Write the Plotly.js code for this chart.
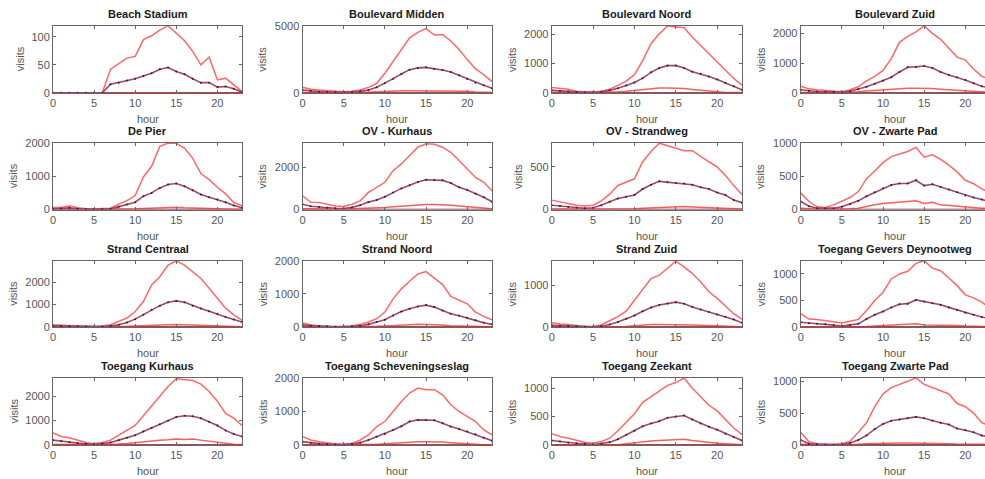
<!DOCTYPE html>
<html>
<head>
<meta charset="utf-8">
<script src="https://cdn.plot.ly/plotly-3.0.1.min.js"></script>
<style>
html,body{margin:0;padding:0;overflow:hidden;background:#fff;}
#chart{width:992px;height:479px;}
</style>
</head>
<body>
<div id="chart"></div>
<script>
const hours = [0,1,2,3,4,5,6,7,8,9,10,11,12,13,14,15,16,17,18,19,20,21,22,23];
const stations = ["Beach Stadium","Boulevard Midden","Boulevard Noord","Boulevard Zuid",
  "De Pier","OV - Kurhaus","OV - Strandweg","OV - Zwarte Pad",
  "Strand Centraal","Strand Noord","Strand Zuid","Toegang Gevers Deynootweg",
  "Toegang Kurhaus","Toegang Scheveningseslag","Toegang Zeekant","Toegang Zwarte Pad"];
const xTicks = [0,5,10,15,20];
const minVisits = [0,0,0,0,0,0,0,0,0,0,0,0,0,0,0,0,0,0,0,0,0,0,0,0];

// Beach Stadium
const bsUpper = [0,0,0,0,0,0,0,42,52,62,65,95,102,112,120,106,93,74,50,64,23,26,14,2];
const bsMean  = [0,0,0,0,0,0,0,15,18,22,25,30,35,42,45,38,33,25,18,18,10,11,7,1];
const bsLower = [0,0,0,0,0,0,0,0,0,0,0,0,0,0,0,0,0,0,0,0,0,0,0,0];
// Boulevard Midden
const bmUpper = [400,250,200,150,100,80,100,200,400,700,1450,2350,3230,4100,4500,4780,4300,4340,3860,3230,2470,1770,1340,830];
const bmMean  = [200,120,80,50,40,40,60,100,200,400,700,1050,1400,1720,1850,1890,1780,1700,1550,1300,1030,750,550,330];
const bmLower = [20,20,20,20,20,20,20,20,50,80,120,150,150,150,150,150,150,150,150,120,100,60,30,10];
// Boulevard Noord
const bnUpper = [180,140,120,50,20,10,50,120,250,400,620,1100,1680,2020,2290,2250,2230,1900,1620,1340,1060,770,490,260];
const bnMean  = [80,60,40,20,10,10,30,80,150,250,350,500,700,850,930,930,850,720,650,560,450,330,220,100];
const bnLower = [10,10,10,10,10,10,10,10,30,50,80,110,140,160,160,160,140,110,80,50,30,10,10,10];
// Boulevard Zuid
const bzUpper = [220,130,100,80,60,30,100,200,400,550,750,1150,1700,1900,2050,2250,2000,1800,1500,1200,1100,800,550,450];
const bzMean  = [100,60,40,30,20,20,50,120,200,300,400,520,700,860,870,900,830,700,600,520,430,320,220,150];
const bzLower = [10,10,10,10,10,10,10,30,60,80,100,120,140,150,150,150,140,120,100,80,60,40,20,10];
// De Pier
const dpUpper = [60,60,110,50,20,10,30,40,160,265,420,980,1300,1900,2000,1990,1850,1540,1080,900,670,470,210,110];
const dpMean  = [20,30,50,20,10,5,10,20,80,150,220,400,500,650,750,780,700,580,450,370,300,220,120,50];
const dpLower = [5,5,5,5,5,5,5,5,10,15,20,30,40,50,60,70,50,40,30,20,15,10,5,5];
// OV - Kurhaus
const okUpper = [650,340,330,250,170,140,250,410,810,1050,1290,1840,2160,2560,2950,3110,3090,2950,2710,2320,1920,1520,1290,890];
const okMean  = [250,150,120,80,60,50,100,200,350,450,600,800,1000,1150,1300,1410,1400,1380,1250,1050,920,750,580,370];
const okLower = [30,20,20,20,20,20,30,50,60,80,100,130,160,200,220,240,240,230,200,170,140,80,50,30];
// OV - Strandweg
const osUpper = [110,90,70,50,40,50,100,180,282,320,360,560,680,778,746,718,690,690,620,560,500,400,280,175];
const osMean  = [50,40,30,20,15,20,50,90,130,150,170,240,290,330,320,310,305,290,260,240,200,170,110,80];
const osLower = [5,5,5,5,5,5,5,5,5,5,10,15,20,25,30,35,35,30,25,25,15,10,5,5];
// OV - Zwarte Pad
const ozUpper = [250,120,40,30,70,120,180,270,464,580,704,796,837,872,935,786,821,755,668,566,439,388,311,250];
const ozMean  = [120,50,20,15,20,40,80,130,200,260,320,370,390,390,440,360,380,340,300,260,210,180,150,120];
const ozLower = [20,10,5,5,5,5,10,20,50,70,90,100,110,115,130,90,110,70,60,50,30,25,20,20];
// Strand Centraal
const scUpper = [100,80,60,40,20,10,40,100,250,400,690,1130,1870,2240,2750,2940,2750,2460,2160,1720,1280,840,540,290];
const scMean  = [50,40,30,20,10,5,20,50,100,200,350,550,765,950,1100,1160,1100,950,820,700,590,450,330,220];
const scLower = [10,10,10,10,10,10,10,10,10,30,50,70,80,90,100,110,100,90,70,50,40,30,20,10];
// Strand Noord
const snUpper = [120,60,40,20,10,5,30,80,150,250,450,850,1150,1380,1600,1670,1480,1280,920,820,700,450,320,220];
const snMean  = [60,40,30,15,5,5,20,40,80,150,220,350,470,550,620,660,600,500,400,340,280,200,130,80];
const snLower = [5,5,5,5,5,5,5,5,5,20,30,50,60,70,80,80,70,60,40,30,20,10,5,5];
// Strand Zuid
const szUpper = [100,70,60,30,10,10,50,150,250,380,645,930,1170,1250,1410,1590,1450,1290,1090,850,690,500,320,185];
const szMean  = [40,30,20,10,5,5,20,60,120,200,280,380,470,530,570,600,560,480,420,360,300,250,180,100];
const szLower = [5,5,5,5,5,5,5,5,5,10,30,50,60,60,60,60,60,50,40,30,20,10,5,5];
// Toegang Gevers Deynootweg
const tgUpper = [250,150,140,120,100,75,110,144,312,500,656,906,1000,1050,1200,1250,1110,1060,925,780,606,550,470,350];
const tgMean  = [90,70,60,50,40,20,40,60,150,230,290,370,430,440,510,480,450,420,370,320,270,230,190,150];
const tgLower = [5,5,5,5,5,5,5,5,10,20,30,40,50,50,60,40,40,40,30,30,20,10,10,5];
// Toegang Kurhaus
const tkUpper = [500,350,300,200,100,50,100,200,400,600,800,1200,1600,2000,2400,2720,2700,2650,2500,2200,1800,1300,1100,800];
const tkMean  = [200,150,120,80,50,30,60,100,200,300,400,550,700,850,1000,1150,1200,1180,1100,950,800,600,450,350];
const tkLower = [20,20,20,20,20,20,20,30,40,60,100,150,180,200,220,250,230,250,200,150,100,50,30,20];
// Toegang Scheveningseslag
const tsUpper = [250,150,100,60,30,20,50,150,300,550,700,1000,1300,1550,1700,1650,1650,1500,1200,1000,850,700,450,300];
const tsMean  = [100,60,40,25,15,10,30,70,150,250,330,450,560,700,750,750,740,650,550,480,400,320,220,130];
const tsLower = [10,10,10,10,10,10,10,10,10,20,40,60,80,90,100,100,100,90,70,50,40,20,10,10];
// Toegang Zeekant
const tzUpper = [200,150,120,80,50,30,60,120,250,400,550,750,850,950,1050,1100,1180,1000,850,700,600,450,300,180];
const tzMean  = [80,60,40,30,20,10,25,50,100,180,250,330,380,420,480,500,520,450,380,320,270,200,140,80];
const tzLower = [5,5,5,5,5,5,5,5,5,20,40,60,70,80,90,100,100,80,60,40,30,20,10,5];
// Toegang Zwarte Pad
const tpUpper = [200,50,20,10,10,20,60,200,350,600,800,900,950,1000,1050,950,900,850,800,650,600,500,350,300];
const tpMean  = [80,20,10,5,5,10,30,80,150,250,330,380,400,420,440,420,380,350,320,260,230,200,150,120];
const tpLower = [10,5,5,5,5,5,5,10,20,25,30,30,30,30,30,30,30,25,20,15,10,10,10,10];

const yMax   = [120,5000,2300,2260,2000,3150,780,1000,2950,2000,1600,1250,2750,2000,1180,1050];
const yDtick = [50,5000,1000,1000,1000,2000,500,500,1000,1000,1000,500,1000,1000,500,500];

const seriesSets = [
  [bsUpper,bsMean,bsLower],[bmUpper,bmMean,bmLower],[bnUpper,bnMean,bnLower],[bzUpper,bzMean,bzLower],
  [dpUpper,dpMean,dpLower],[okUpper,okMean,okLower],[osUpper,osMean,osLower],[ozUpper,ozMean,ozLower],
  [scUpper,scMean,scLower],[snUpper,snMean,snLower],[szUpper,szMean,szLower],[tgUpper,tgMean,tgLower],
  [tkUpper,tkMean,tkLower],[tsUpper,tsMean,tsLower],[tzUpper,tzMean,tzLower],[tpUpper,tpMean,tpLower]
];

const W = 992, H = 479;
const colPx = [[53,242],[302.5,492],[551.7,742],[800.7,990]];
const rowPx = [[25.7,92.7],[143,209.5],[260.7,327],[378,445]];

const traces = [];
const FONT = 'Liberation Sans, Arial, sans-serif';
const layout = {
  width: W, height: H,
  margin: {l:0,r:0,t:0,b:0},
  paper_bgcolor: '#fff', plot_bgcolor: '#fff',
  showlegend: false,
  font: {family: FONT, size: 11, color: '#555'},
  annotations: []
};

const tickFont = {family: FONT, size: 11, color: '#555'};

for (let i = 0; i < 16; i++) {
  const r = Math.floor(i/4), c = i % 4;
  const xd = [colPx[c][0]/W, colPx[c][1]/W];
  const yd = [1 - rowPx[r][1]/H, 1 - rowPx[r][0]/H];
  const sfx = i === 0 ? '' : String(i+1);
  const xa = 'x' + sfx, ya = 'y' + sfx;
  const [up, mn, lo] = seriesSets[i];
  traces.push({x: hours, y: minVisits, xaxis: xa, yaxis: ya, mode: 'lines', type: 'scatter',
    line: {color: '#7a1424', width: 1.3}, hoverinfo: 'skip', cliponaxis: false});
  traces.push({x: hours, y: lo, xaxis: xa, yaxis: ya, mode: 'lines', type: 'scatter',
    line: {color: 'rgba(245,40,40,0.75)', width: 1.5}, hoverinfo: 'skip'});
  traces.push({x: hours, y: up, xaxis: xa, yaxis: ya, mode: 'lines', type: 'scatter',
    line: {color: 'rgba(255,45,45,0.72)', width: 1.5}, hoverinfo: 'skip'});
  traces.push({x: hours, y: mn, xaxis: xa, yaxis: ya, mode: 'lines+markers', type: 'scatter',
    line: {color: '#9a4a6c', width: 1.6}, marker: {color: '#4a1028', size: 2}, hoverinfo: 'skip'});

  layout['xaxis' + sfx] = {
    domain: xd, anchor: ya, range: [0, 23], tickvals: xTicks, ticktext: xTicks.map(String),
    ticks: 'inside', ticklen: 3, tickcolor: '#666', mirror: 'ticks', showline: true,
    linecolor: '#666', linewidth: 1, showgrid: false, zeroline: false, tickfont: tickFont,
    fixedrange: true
  };
  layout['yaxis' + sfx] = {
    domain: yd, anchor: xa, range: [0, yMax[i]], dtick: yDtick[i], tick0: 0,
    ticks: 'inside', ticklen: 3, tickcolor: '#666', mirror: 'ticks', showline: true,
    linecolor: '#666', linewidth: 1, showgrid: false, zeroline: false, tickfont: tickFont,
    fixedrange: true
  };
  // subplot title
  layout.annotations.push({
    text: '<b>' + stations[i] + '</b>', xref: 'paper', yref: 'paper',
    x: (xd[0] + xd[1]) / 2, y: yd[1] + 12/H, xanchor: 'center', yanchor: 'middle',
    showarrow: false, font: {family: FONT, size: 11, color: '#1a1a1a'}
  });
  // x axis label
  layout.annotations.push({
    text: 'hour', xref: 'paper', yref: 'paper',
    x: (xd[0] + xd[1]) / 2, y: yd[0] - 26/H, xanchor: 'center', yanchor: 'middle',
    showarrow: false, font: {family: FONT, size: 11, color: '#555'}
  });
  // y axis label, offset by widest tick label
  const maxTick = Math.floor(yMax[i] / yDtick[i]) * yDtick[i];
  const digits = String(maxTick).length;
  const off = 12 + 7 * digits;
  layout.annotations.push({
    text: 'visits', xref: 'paper', yref: 'paper', textangle: -90,
    x: (colPx[c][0] - off)/W, y: (yd[0] + yd[1]) / 2, xanchor: 'center', yanchor: 'middle',
    showarrow: false, font: {family: FONT, size: 11, color: '#555'}
  });
}

Plotly.newPlot('chart', traces, layout, {staticPlot: true, displayModeBar: false});
</script>
</body>
</html>
